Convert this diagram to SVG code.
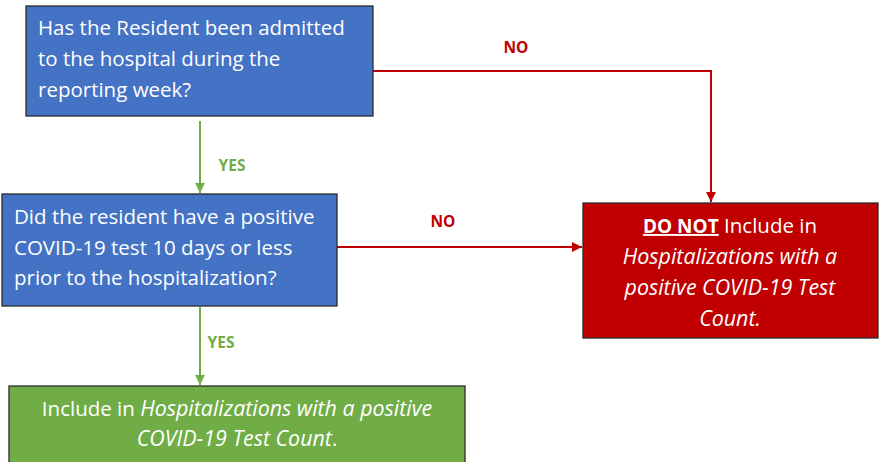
<svg xmlns="http://www.w3.org/2000/svg" width="879" height="462" viewBox="0 0 879 462">
<defs>
<marker id="ar" viewBox="0 0 10 10" refX="10" refY="5" markerWidth="10" markerHeight="10" markerUnits="userSpaceOnUse" orient="auto"><path d="M0,0 L10,5 L0,10 z" fill="#C00000"/></marker>
<marker id="ag" viewBox="0 0 10 10" refX="10" refY="5" markerWidth="10" markerHeight="10" markerUnits="userSpaceOnUse" orient="auto"><path d="M0,0 L10,5 L0,10 z" fill="#70AD47"/></marker>
<style>
.box{stroke:#2b2b2b;stroke-width:1.3}
.t{font-family:"Open Sans","Liberation Sans",sans-serif;font-size:20.5px;fill:#fff}
.i{font-style:italic;font-size:21.4px}
.lbl{font-family:"Open Sans","Liberation Sans",sans-serif;font-size:15.5px;font-weight:bold}
.r{stroke:#C00000;stroke-width:2;fill:none}
.g{stroke:#70AD47;stroke-width:2;fill:none}
</style>
</defs>
<rect width="879" height="462" fill="#fff"/>
<g id="connectors">
<path class="r" d="M373,71 H711 V202" marker-end="url(#ar)"/>
<path class="r" d="M337,247 H582" marker-end="url(#ar)"/>
<path class="g" d="M200,121 V193" marker-end="url(#ag)"/>
<path class="g" d="M200,307 V385" marker-end="url(#ag)"/>
<text class="lbl" x="516" y="53" fill="#C00000" text-anchor="middle">NO</text>
<text class="lbl" x="443" y="227" fill="#C00000" text-anchor="middle">NO</text>
<text class="lbl" x="232" y="171" fill="#70AD47" text-anchor="middle">YES</text>
<text class="lbl" x="221" y="348" fill="#70AD47" text-anchor="middle">YES</text>
</g>
<g id="q1">
<rect class="box" x="26" y="6" width="347" height="110" fill="#4472C4"/>
<text class="t"><tspan x="38" y="35">Has the Resident been admitted</tspan><tspan x="38" y="66">to the hospital during the</tspan><tspan x="38" y="97">reporting week?</tspan></text>
</g>
<g id="q2">
<rect class="box" x="2" y="194" width="335" height="112" fill="#4472C4"/>
<text class="t"><tspan x="14" y="224">Did the resident have a positive</tspan><tspan x="14" y="255">COVID-19 test 10 days or less</tspan><tspan x="14" y="285">prior to the hospitalization?</tspan></text>
</g>
<g id="exclude">
<rect class="box" x="583" y="203" width="295" height="135" fill="#C00000"/>
<text class="t" text-anchor="middle"><tspan x="730" y="233"><tspan text-decoration="underline" font-weight="bold" font-size="19px">DO NOT</tspan> Include in</tspan><tspan x="730" y="264" class="i">Hospitalizations with a</tspan><tspan x="730" y="295" class="i">positive COVID-19 Test</tspan><tspan x="730" y="326" class="i">Count.</tspan></text>
</g>
<g id="include">
<rect class="box" x="9" y="386" width="456" height="90" fill="#70AD47"/>
<text class="t" text-anchor="middle"><tspan x="237" y="416">Include in <tspan class="i">Hospitalizations with a positive</tspan></tspan><tspan x="237" y="446"><tspan class="i">COVID-19 Test Count</tspan>.</tspan></text>
</g>
</svg>
